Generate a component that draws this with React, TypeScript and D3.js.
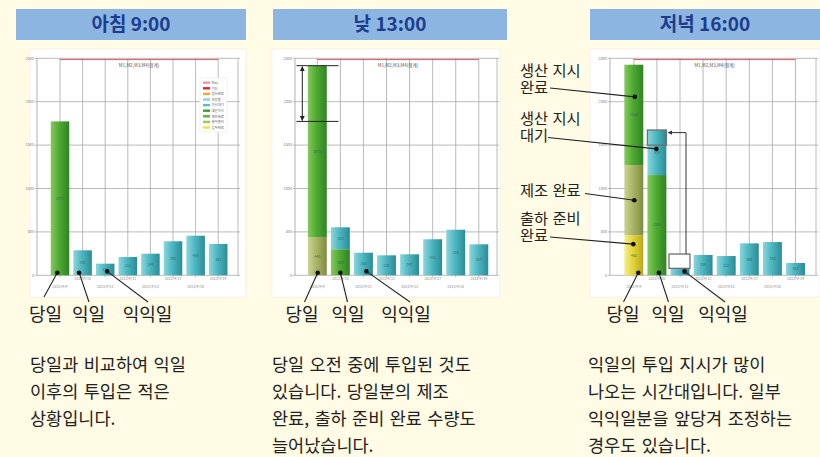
import React from 'react';
import * as d3 from 'd3';

// ---------- data ----------
const DATES = ['2013/9/9', '2013/9/10', '2013/9/11', '2013/9/12', '2013/9/13', '2013/9/17', '2013/9/18', '2013/9/19'];
const Y_TICKS = [0, 500, 1000, 1500, 2000, 2500];
const MAX_VALUE = 2485;
const SERIES_KEYS = ['ship', 'made', 'instr', 'wait'];

// 아침 9:00
const AM_SHIP = [0, 0, 0, 0, 0, 0, 0, 0];
const AM_MADE = [0, 0, 0, 0, 0, 0, 0, 0];
const AM_INSTR = [1773, 0, 0, 0, 0, 0, 0, 0];
const AM_WAIT = [0, 288, 134, 211, 249, 392, 456, 361];

// 낮 13:00
const NOON_SHIP = [0, 0, 0, 0, 0, 0, 0, 0];
const NOON_MADE = [440, 0, 0, 0, 0, 0, 0, 0];
const NOON_INSTR = [1975, 300, 0, 0, 0, 0, 0, 0];
const NOON_WAIT = [0, 253, 260, 230, 242, 415, 525, 357];

// 저녁 16:00
const PM_SHIP = [460, 0, 0, 0, 0, 0, 0, 0];
const PM_MADE = [810, 0, 0, 0, 0, 0, 0, 0];
const PM_INSTR = [1156, 1155, 0, 0, 0, 0, 0, 0];
const PM_WAIT = [0, 519, 80, 234, 222, 368, 383, 142];
const PM_MOVED = 175; // 익익일분 앞당김

const LEGEND_LABELS = ['Max', '기타', '검사완료', '조정중', '지시대기', '생산지시', '제조완료', '출하준비', '입하완료'];
const LEGEND_COLORS = ['#e89aa6', '#e8262a', '#f5a623', '#8fd0ea', '#4fbfc9', '#3e9a30', '#5cb33a', '#9ccc4a', '#f2e227'];

const HEADERS = ['아침 9:00', '낮 13:00', '저녁 16:00'];
const DAY_LABELS = ['당일', '익일', '익익일'];
const PARAS = [
  ['당일과 비교하여 익일', '이후의 투입은 적은', '상황입니다.'],
  ['당일 오전 중에 투입된 것도', '있습니다. 당일분의 제조', '완료, 출하 준비 완료 수량도', '늘어났습니다.'],
  ['익일의 투입 지시가 많이', '나오는 시간대입니다. 일부', '익익일분을 앞당겨 조정하는', '경우도 있습니다.'],
];
const PM_NOTES = [
  ['생산 지시', '완료'],
  ['생산 지시', '대기'],
  ['제조 완료'],
  ['출하 준비', '완료'],
];

// ---------- styling ----------
const BG = '#fffbe5';
const GRAD: Record<string, string[]> = {
  ship: ['#f6ef8a', '#e2d43a', '#b9a81c'],
  made: ['#cdd394', '#aab466', '#7f8c40'],
  instr: ['#86c95e', '#4faa32', '#2f8424'],
  wait: ['#8ad6dc', '#4db7c1', '#2a8c97'],
};

const FONT = '"Noto Sans CJK KR", "Noto Sans", sans-serif';
const NOTE_FONT = '"Liberation Sans", "Noto Sans CJK KR", sans-serif';

type ChartDef = {
  panel: [number, number, number, number];
  axisX: number;
  c0: number;
  step: number;
  right: number;
  series: number[][];
};

const CHARTS: ChartDef[] = [
  { panel: [30, 49, 216, 248], axisX: 37, c0: 60, step: 22.6, right: 238, series: [AM_SHIP, AM_MADE, AM_INSTR, AM_WAIT] },
  { panel: [272, 49, 228, 248], axisX: 295, c0: 317.3, step: 23.07, right: 497, series: [NOON_SHIP, NOON_MADE, NOON_INSTR, NOON_WAIT] },
  { panel: [590, 49, 230, 248], axisX: 610, c0: 633.8, step: 23.1, right: 816, series: [PM_SHIP, PM_MADE, PM_INSTR, PM_WAIT] },
];

function makeScales(c: ChartDef) {
  const x = d3
    .scaleBand<string>()
    .domain(DATES)
    .range([c.c0 - c.step / 2, c.c0 + c.step * (DATES.length - 0.5)])
    .paddingInner(0.18)
    .paddingOuter(0.09);
  const y = d3.scaleLinear().domain([0, 2500]).range([275.3, 58.3]);
  return { x, y };
}

function Chart({ c, idx }: { c: ChartDef; idx: number }) {
  const { x, y } = makeScales(c);
  const rows = DATES.map((d, i) => {
    const r: any = { date: d };
    SERIES_KEYS.forEach((k, j) => (r[k] = c.series[j][i]));
    return r;
  });
  const stacked = d3.stack<any>().keys(SERIES_KEYS)(rows);
  const cx = (d: string) => (x(d) as number) + x.bandwidth() / 2;
  const [px, py, pw, ph] = c.panel;
  const gridColor = '#a8a8a8';
  return (
    <g>
      <rect x={px} y={py} width={pw} height={ph} fill="#ffffff" stroke="#ececec" strokeWidth={0.6} />
      {Y_TICKS.map((t) => (
        <g key={'h' + t}>
          <line x1={c.axisX - 2} x2={c.right + 2} y1={y(t)} y2={y(t)} stroke={gridColor} strokeWidth={0.8} />
          <text x={c.axisX - 3} y={y(t) + 1.3} fontSize={3.8} fill="#777" textAnchor="end" fontFamily={FONT}>
            {t}
          </text>
        </g>
      ))}
      {DATES.map((d) => (
        <line key={'v' + d} x1={cx(d)} x2={cx(d)} y1={y(2500)} y2={y(0) + 2} stroke={gridColor} strokeWidth={0.8} />
      ))}
      <line x1={c.axisX} x2={c.axisX} y1={y(2500)} y2={y(0)} stroke={gridColor} strokeWidth={0.9} />
      <line x1={c.right} x2={c.right} y1={y(2500)} y2={y(0)} stroke={gridColor} strokeWidth={0.8} />
      {DATES.map((d, i) => (
        <text
          key={'xl' + d}
          x={cx(d)}
          y={i % 2 === 0 ? 288 : 280}
          fontSize={3.6}
          fill="#888"
          textAnchor="middle"
          fontFamily={FONT}
        >
          {d}
        </text>
      ))}
      <line x1={cx(DATES[0])} x2={cx(DATES[DATES.length - 1])} y1={y(MAX_VALUE)} y2={y(MAX_VALUE)} stroke="#d9566a" strokeWidth={1} />
      <text x={(cx(DATES[0]) + cx(DATES[DATES.length - 1])) / 2} y={y(2405)} fontSize={4.6} fill="#555" textAnchor="middle" fontFamily={FONT}>
        M1,M2,M3,M4(합계)
      </text>
      {stacked.map((s) => (
        <g key={s.key}>
          {s.map((seg, i) =>
            seg[1] - seg[0] > 0 ? (
              <g key={i}>
                <rect
                  x={x(DATES[i])}
                  y={y(seg[1])}
                  width={x.bandwidth()}
                  height={y(seg[0]) - y(seg[1])}
                  fill={`url(#g-${s.key})`}
                />
                {seg[1] - seg[0] > 90 ? (
                  <text
                    x={cx(DATES[i])}
                    y={(y(seg[0]) + y(seg[1])) / 2 + 1.3}
                    fontSize={3.6}
                    fill="#2d5d52"
                    textAnchor="middle"
                    fontFamily={FONT}
                    opacity={0.8}
                  >
                    {Math.round(seg[1] - seg[0])}
                  </text>
                ) : null}
              </g>
            ) : null
          )}
        </g>
      ))}
      {idx === 0 ? (
        <g>
          <rect x={200} y={78} width={27} height={54} fill="#fff" stroke="#e4e4e4" strokeWidth={0.5} />
          {LEGEND_LABELS.map((l, i) => (
            <g key={l}>
              <rect x={203} y={81.5 + i * 5.6} width={7} height={2.4} fill={LEGEND_COLORS[i]} />
              <text x={211.5} y={84 + i * 5.6} fontSize={3.4} fill="#666" fontFamily={FONT}>
                {l}
              </text>
            </g>
          ))}
        </g>
      ) : null}
    </g>
  );
}

function DayPointers({ c, ends, dx }: { c: ChartDef; ends: [number, number][]; dx: number[] }) {
  const { x, y } = makeScales(c);
  const cx = (d: string) => (x(d) as number) + x.bandwidth() / 2;
  return (
    <g>
      {ends.map((e, i) => {
        const px = cx(DATES[i]) + dx[i];
        const py = y(i === 2 ? 45 : 30);
        return (
          <g key={i}>
            <line x1={px} y1={py} x2={e[0]} y2={e[1]} stroke="#222" strokeWidth={1.1} />
            <circle cx={px} cy={py} r={2.3} fill="#111" />
          </g>
        );
      })}
    </g>
  );
}

export default function App() {
  const [c1, c2, c3] = CHARTS;
  const s2 = makeScales(c2);
  const s3 = makeScales(c3);
  const cx3 = (d: string) => (s3.x(d) as number) + s3.x.bandwidth() / 2;
  const noonTop = NOON_MADE[0] + NOON_INSTR[0];
  const amTop = AM_INSTR[0];
  const bar2Top = PM_INSTR[1] + PM_WAIT[1];
  const headerBoxes: [number, number][] = [
    [16, 230],
    [273, 234],
    [590, 230],
  ];
  const dayLabelX = [
    [45.5, 88.5, 147.5],
    [302, 348, 406],
    [623, 668, 723],
  ];
  const paraX = [30, 272, 588];
  const noteY = [76, 124, 196, 224];
  const noteLines: [number, number][] = [
    [550, 88],
    [548, 137.5],
    [585, 193.5],
    [550, 237],
  ];
  const noteTargets = [
    { i: 0, v: PM_SHIP[0] + PM_MADE[0] + PM_INSTR[0] * 0.68, dx: 1 },
    { i: 1, v: PM_INSTR[1] + PM_WAIT[1] * 0.58, dx: -0.5 },
    { i: 0, v: PM_SHIP[0] + PM_MADE[0] * 0.5, dx: 0.5 },
    { i: 0, v: PM_SHIP[0] * 0.78, dx: -0.5 },
  ];

  return (
    <svg
      width={820}
      height={457}
      viewBox="0 0 820 457"
      style={{ position: 'absolute', left: 0, top: 0, display: 'block' }}
      fontFamily={FONT}
    >
      <defs>
        {SERIES_KEYS.map((k) => (
          <linearGradient key={k} id={`g-${k}`} x1="0" x2="1" y1="0" y2="0">
            <stop offset="0" stopColor={GRAD[k][0]} />
            <stop offset="0.45" stopColor={GRAD[k][1]} />
            <stop offset="1" stopColor={GRAD[k][2]} />
          </linearGradient>
        ))}
        <marker id="arrowHead" viewBox="0 0 10 10" refX="9" refY="5" markerWidth="5" markerHeight="5" orient="auto-start-reverse">
          <path d="M0,0 L10,5 L0,10 z" fill="#222" />
        </marker>
        <marker id="arrowHead2" viewBox="0 0 10 10" refX="9" refY="5" markerWidth="4.5" markerHeight="4.5" orient="auto">
          <path d="M0,0 L10,5 L0,10 z" fill="#333" />
        </marker>
      </defs>
      <rect x={0} y={0} width={820} height={457} fill={BG} />

      {HEADERS.map((h, i) => (
        <g key={h}>
          <rect x={headerBoxes[i][0]} y={9} width={headerBoxes[i][1]} height={31} fill="#8cb5e1" />
          <text
            x={headerBoxes[i][0] + headerBoxes[i][1] / 2}
            y={31}
            fontSize={19}
            fontWeight={700}
            fill="#1c3d8c"
            textAnchor="middle"
          >
            {h}
          </text>
        </g>
      ))}

      {CHARTS.map((c, i) => (
        <Chart key={i} c={c} idx={i} />
      ))}

      {/* noon annotation: double arrow */}
      <g stroke="#222" strokeWidth={1}>
        <line x1={c2.axisX + 1.5} x2={338.5} y1={s2.y(noonTop)} y2={s2.y(noonTop)} />
        <line x1={c2.axisX + 1.5} x2={338.5} y1={s2.y(amTop)} y2={s2.y(amTop)} />
        <line
          x1={302.3}
          x2={302.3}
          y1={s2.y(noonTop) + 1}
          y2={s2.y(amTop) - 1}
          markerStart="url(#arrowHead)"
          markerEnd="url(#arrowHead)"
        />
      </g>

      {/* evening annotation: moved block */}
      <rect
        x={s3.x(DATES[1])}
        y={s3.y(bar2Top)}
        width={s3.x.bandwidth()}
        height={s3.y(bar2Top - PM_MOVED) - s3.y(bar2Top)}
        fill="none"
        stroke="#6f6f6f"
        strokeWidth={1.3}
      />
      <rect
        x={(s3.x(DATES[2]) as number) - 1.5}
        y={s3.y(PM_WAIT[2] + PM_MOVED - 10)}
        width={s3.x.bandwidth() + 2}
        height={s3.y(PM_WAIT[2]) - s3.y(PM_WAIT[2] + PM_MOVED - 10)}
        fill="#ffffff"
        stroke="#6f6f6f"
        strokeWidth={1.3}
      />
      <polyline
        points={`${cx3(DATES[2]) + 6},${s3.y(PM_WAIT[2] + PM_MOVED - 10)} ${cx3(DATES[2]) + 6},${s3.y(bar2Top - 30)} ${
          (s3.x(DATES[1]) as number) + s3.x.bandwidth() + 2
        },${s3.y(bar2Top - 30)}`}
        fill="none"
        stroke="#333"
        strokeWidth={1}
        markerEnd="url(#arrowHead2)"
      />

      {/* evening notes */}
      {PM_NOTES.map((lines, i) =>
        lines.map((l, j) => (
          <text key={i + '-' + j} x={520} y={noteY[i] + j * 17.3} fontSize={15.3} fill="#222" fontFamily={NOTE_FONT}>
            {l}
          </text>
        ))
      )}
      {noteLines.map((n, i) => {
        const t = noteTargets[i];
        const tx = cx3(DATES[t.i]) + t.dx;
        const ty = s3.y(t.v);
        return (
          <g key={'nl' + i}>
            <line x1={n[0]} y1={n[1]} x2={tx} y2={ty} stroke="#222" strokeWidth={1.1} />
            <circle cx={tx} cy={ty} r={2.3} fill="#111" />
          </g>
        );
      })}

      <DayPointers c={c1} ends={[[44, 297], [89, 302], [148, 302]]} dx={[-2.7, -3.5, 2]} />
      <DayPointers c={c2} ends={[[304.5, 302], [347.5, 302], [410, 302]]} dx={[0.4, 0, 3]} />
      <DayPointers c={c3} ends={[[623.5, 302], [668.5, 302], [725, 302]]} dx={[4.5, 2, 4.5]} />

      {dayLabelX.map((xs, i) =>
        DAY_LABELS.map((l, j) => (
          <text key={i + '-' + j} x={xs[j]} y={321} fontSize={18} fill="#222" textAnchor="middle">
            {l}
          </text>
        ))
      )}

      {PARAS.map((p, i) => (
        <text key={'p' + i} x={paraX[i]} y={371} fontSize={17.5} fill="#222" wordSpacing={1.5}>
          {p.map((l, j) => (
            <tspan key={j} x={paraX[i]} dy={j === 0 ? 0 : 27}>
              {l}
            </tspan>
          ))}
        </text>
      ))}
    </svg>
  );
}
